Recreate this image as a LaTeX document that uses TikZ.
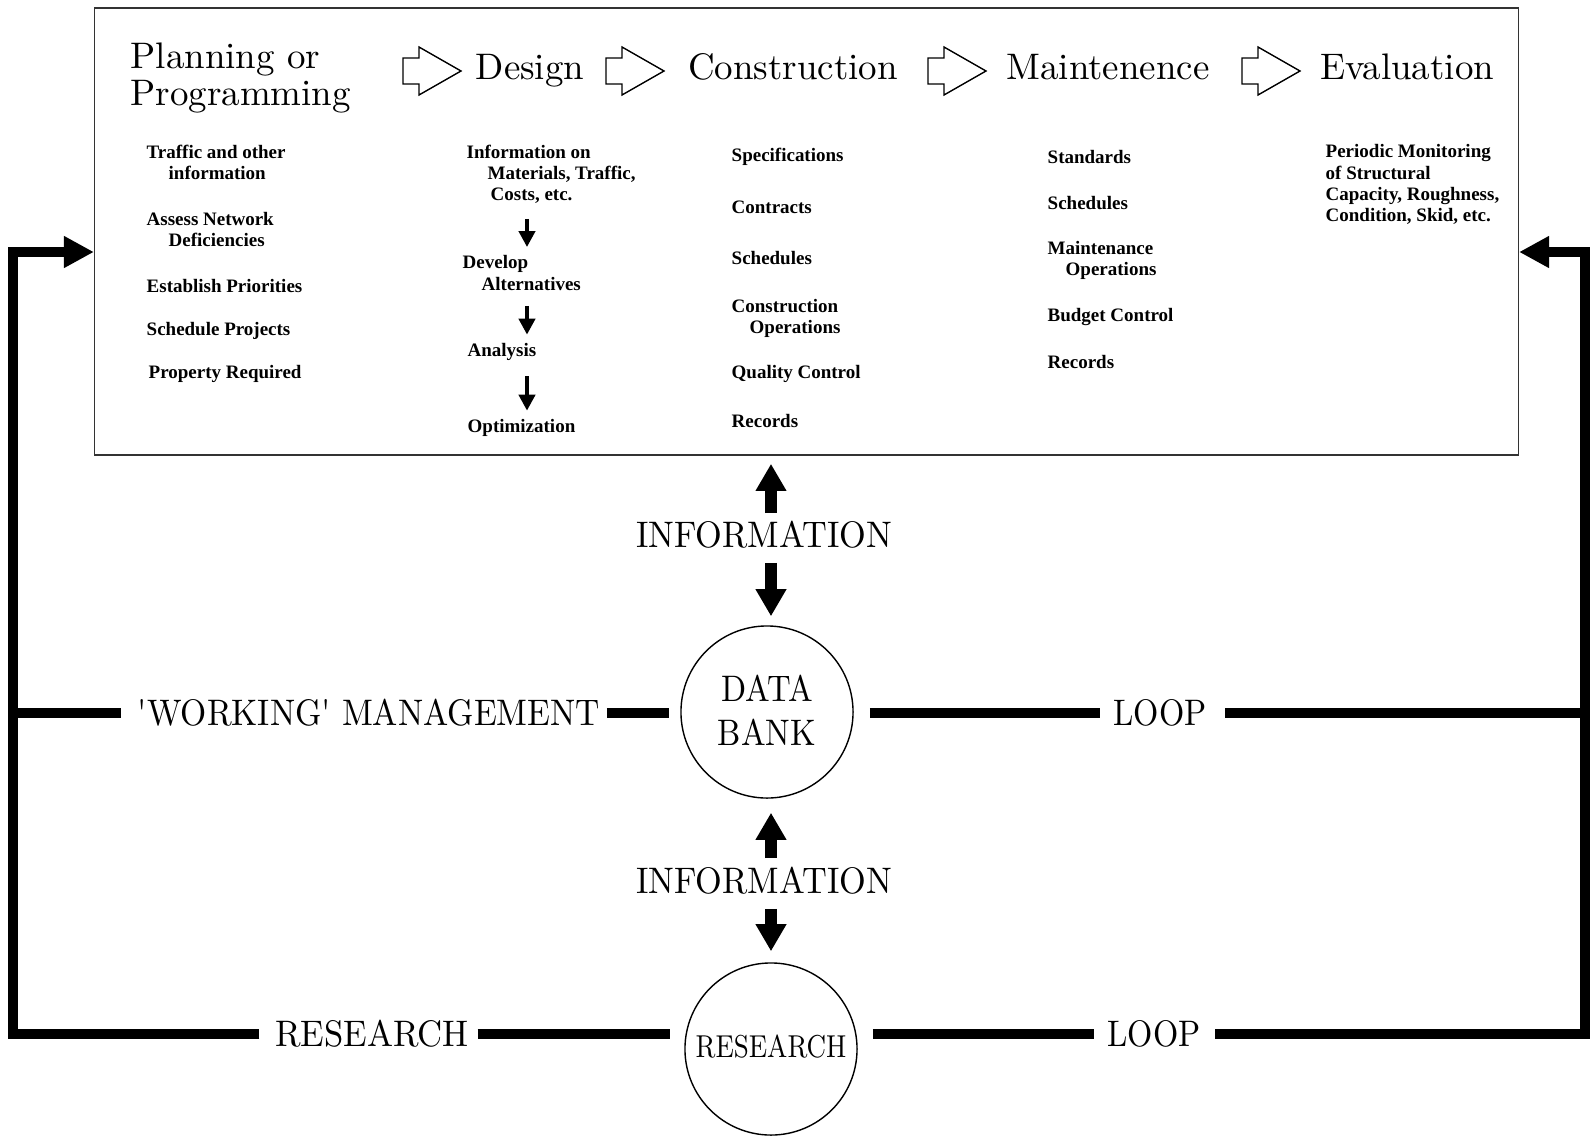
\documentclass[tikz,border=0pt]{standalone}
\usepackage{fontspec}
\usepackage{graphicx}
\usetikzlibrary{arrows.meta}

\newfontfamily\itemfont{Liberation Serif}
\newcommand{\squeeze}[2][0.88]{\scalebox{#1}[1]{#2}}

\tikzset{
  panelbox/.style={draw=black!80, line width=0.4pt, minimum width=14.23cm, minimum height=4.47cm, inner sep=0pt},
  stagetitle/.style={font=\fontsize{10.5}{10.5}\selectfont, inner sep=0pt},
  stagearrow/.style={draw, line width=0.4pt},
  itemtext/.style={font=\itemfont\bfseries\fontsize{5.4}{6}\selectfont, anchor=west, align=left, inner sep=0pt},
  steparrow/.style={line width=0.04cm, -{Triangle[length=0.16cm,width=0.16cm]}, shorten <=0.15cm, shorten >=0.08cm},
  bigword/.style={font=\fontsize{10.5}{12.5}\selectfont, inner sep=0pt},
  store/.style={draw, circle, minimum size=1.72cm, inner sep=0pt, line width=0.4pt, font=\fontsize{10.5}{12.5}\selectfont, align=center},
  infoarrow/.style={line width=0.12cm, -{Triangle[length=0.27cm,width=0.29cm]}},
  loopline/.style={line width=0.1cm},
  looparrow/.style={line width=0.1cm, -{Triangle[length=0.3cm,width=0.3cm]}}
}

\begin{document}
\begin{tikzpicture}[x=0.01cm,y=-0.01cm]
  \useasboundingbox (0,0) rectangle (1590,1136);

  % stages of the programme
  \node[panelbox] (panel) at (806.5,231.5) {};
  \node[stagetitle, anchor=north west, align=left] (planning) at (130,42) {Planning or\\Programming};
  \node[stagetitle, anchor=base] (design) at (530,79) {Design};
  \node[stagetitle, anchor=base] (construction) at (793,79) {Construction};
  \node[stagetitle, anchor=base] (maintenence) at (1108,79) {Maintenence};
  \node[stagetitle, anchor=base] (evaluation) at (1407,79) {Evaluation};
  \foreach \x in {403,606,928,1242}
    \draw[stagearrow] (\x,58) -- ++(16,0) -- ++(0,-11) -- ++(42,24) -- ++(-42,24) -- ++(0,-11) -- ++(-16,0) -- cycle;

  % planning
  \node[itemtext] (traffic) at (146,162.5) {Traffic and other\\\hspace*{0.22cm}information};
  \node[itemtext] (assess) at (146,229.5) {Assess Network\\\hspace*{0.22cm}Deficiencies};
  \node[itemtext] (priorities) at (146,286) {Establish Priorities};
  \node[itemtext] (projects) at (146,331) {Schedule Projects};
  \node[itemtext] (property) at (148,374) {Property Required};

  % design
  \node[itemtext] (desinfo) at (466,174) {Information on\\\hspace*{0.21cm}Materials, Traffic,\\\hspace*{0.24cm}Costs, etc.};
  \node[itemtext] (desdev) at (462,273) {Develop\\\hspace*{0.19cm}Alternatives};
  \node[itemtext] (desana) at (467,352) {Analysis};
  \node[itemtext] (desopt) at (467,428) {Optimization};
  \coordinate (stepx) at (527,0);
  \draw[steparrow] (desinfo.south -| stepx) -- (desdev.north -| stepx);
  \draw[steparrow] (desdev.south -| stepx) -- (desana.north -| stepx);
  \draw[steparrow] (desana.south -| stepx) -- (desopt.north -| stepx);

  % construction
  \node[itemtext] (specs) at (731,157) {Specifications};
  \node[itemtext] (contracts) at (731,207) {Contracts};
  \node[itemtext] (conschedules) at (731,258) {Schedules};
  \node[itemtext] (conops) at (731,318) {Construction\\\hspace*{0.18cm}Operations};
  \node[itemtext] (quality) at (731,374) {Quality Control};
  \node[itemtext] (conrecords) at (731,421) {Records};

  % maintenence
  \node[itemtext] (standards) at (1047,157) {Standards};
  \node[itemtext] (mainschedules) at (1047,203) {Schedules};
  \node[itemtext] (mainops) at (1047,260.5) {Maintenance\\\hspace*{0.18cm}Operations};
  \node[itemtext] (budget) at (1047,317) {Budget Control};
  \node[itemtext] (mainrecords) at (1047,362) {Records};

  % evaluation
  \node[itemtext] (monitoring) at (1325,184.5) {Periodic Monitoring\\of Structural\\Capacity, Roughness,\\Condition, Skid, etc.};

  % data bank and research
  \node[bigword] (info1) at (764,534.5) {\squeeze[0.93]{INFORMATION}};
  \node[store] (dbank) at (767,712) {\raisebox{1.1pt}{\squeeze[0.89]{DATA}}\\\raisebox{1.1pt}{\squeeze[0.89]{BANK}}};
  \node[bigword] (info2) at (764,880.5) {\squeeze[0.93]{INFORMATION}};
  \node[store, font=\fontsize{9}{10}\selectfont] (rescirc) at (771,1049) {\raisebox{1.4pt}{\squeeze[0.83]{RESEARCH}}};
  \coordinate (infox) at (771,0);
  \draw[infoarrow, shorten <=0.07cm, shorten >=0.08cm] (info1.north -| infox) -- (panel.south -| infox);
  \draw[infoarrow, shorten <=0.14cm, shorten >=0.09cm] (info1.south -| infox) -- (dbank.north -| infox);
  \draw[infoarrow, shorten <=0.08cm, shorten >=0.14cm] (info2.north -| infox) -- (dbank.south -| infox);
  \draw[infoarrow, shorten <=0.14cm, shorten >=0.11cm] (info2.south -| infox) -- (rescirc.north -| infox);

  % loops
  \node[bigword] (wmlbl) at (369,713) {\squeeze[0.91]{\textquotesingle WORKING\textquotesingle\ MANAGEMENT}};
  \node[bigword] (loop1) at (1160,713) {\squeeze{LOOP}};
  \node[bigword] (reslbl) at (372,1034) {\squeeze[0.94]{RESEARCH}};
  \node[bigword] (loop2) at (1154,1034) {\squeeze{LOOP}};
  \coordinate (cTL) at (13,252);
  \coordinate (cML) at (13,713);
  \coordinate (cBL) at (13,1034);
  \coordinate (cTR) at (1585,252);
  \coordinate (cMR) at (1585,713);
  \coordinate (cBR) at (1585,1034);
  \draw[looparrow, shorten <=0.15cm] (reslbl.west) -- (cBL) -- (cTL) -- (cTL -| panel.west);
  \draw[looparrow, shorten <=0.14cm] (loop2.east) -- (cBR) -- (cTR) -- (cTR -| panel.east);
  \draw[loopline, shorten >=0.16cm] (cML) -- (wmlbl.west);
  \draw[loopline, shorten <=0.06cm, shorten >=0.11cm] (wmlbl.east) -- (wmlbl.east -| dbank.west);
  \draw[loopline, shorten <=0.16cm, shorten >=0.13cm] (loop1.west -| dbank.east) -- (loop1.west);
  \draw[loopline, shorten <=0.18cm] (loop1.east) -- (cMR);
  \draw[loopline, shorten <=0.08cm, shorten >=0.14cm] (reslbl.east) -- (reslbl.east -| rescirc.west);
  \draw[loopline, shorten <=0.15cm, shorten >=0.13cm] (loop2.west -| rescirc.east) -- (loop2.west);
\end{tikzpicture}
\end{document}
